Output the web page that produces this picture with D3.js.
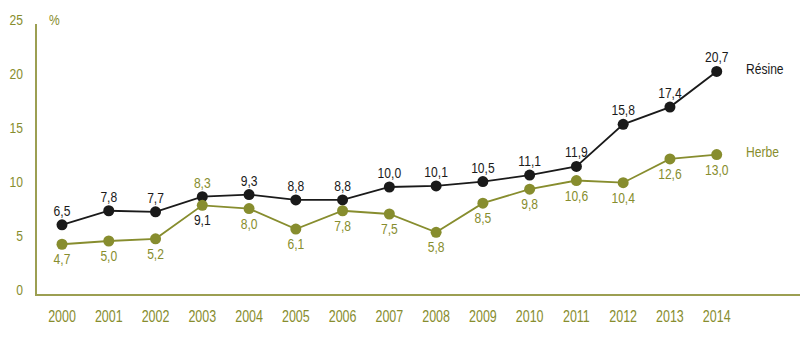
<!doctype html>
<html lang="fr">
<head>
  <meta charset="utf-8">
  <title>Résine et herbe</title>
  <script src="https://d3js.org/d3.v7.min.js"></script>
  <style>
    html, body { margin: 0; padding: 0; background: #fff; }
    svg { display: block; font-family: "Liberation Sans", Arial, sans-serif; }
  </style>
</head>
<body>
  <div id="chart"></div>
  <script>
    // data
    const years = [2000, 2001, 2002, 2003, 2004, 2005, 2006, 2007, 2008, 2009, 2010, 2011, 2012, 2013, 2014];
    const resine = [6.5, 7.8, 7.7, 9.1, 9.3, 8.8, 8.8, 10.0, 10.1, 10.5, 11.1, 11.9, 15.8, 17.4, 20.7];
    const herbe = [4.7, 5.0, 5.2, 8.3, 8.0, 6.1, 7.8, 7.5, 5.8, 8.5, 9.8, 10.6, 10.4, 12.6, 13.0];
    const yTicks = [0, 5, 10, 15, 20, 25];
    // years where the labels swap sides
    const swapLabelYears = [2003];

    const W = 800, H = 341;
    const olive = "#878d2e";
    const axisCol = "#9c9f52";
    const dark = "#1a1a1a";
    const squeeze = 0.78; // condensed look
    const fmt = v => d3.format(".1f")(v).replace(".", ",");

    const svg = d3.select("#chart").append("svg")
      .attr("width", W).attr("height", H);

    const x = d3.scalePoint().domain(years).range([62, 716.7]);
    const y = d3.scaleLinear().domain([0, 25]).range([295, 25]);

    // narrow text: place at (px,py) and squeeze horizontally
    function put(sel, px, py) {
      sel.attr("transform", (d, i) => `translate(${px(d, i)},${py(d, i)}) scale(${squeeze},1)`);
    }

    // axes
    svg.append("line").attr("x1", 36).attr("x2", 36).attr("y1", 24).attr("y2", 295)
      .attr("stroke", axisCol).attr("stroke-width", 2);
    svg.append("line").attr("x1", 35).attr("x2", W).attr("y1", 295).attr("y2", 295)
      .attr("stroke", axisCol).attr("stroke-width", 2);

    svg.append("g").selectAll("text").data(yTicks).join("text")
      .call(put, () => 23, d => y(d))
      .attr("text-anchor", "end")
      .attr("font-size", 15.5).attr("fill", olive)
      .text(d => d);

    svg.append("text").datum("%")
      .call(put, () => 49, () => 25)
      .attr("font-size", 15.5).attr("fill", olive).text("%");

    svg.append("g").selectAll("text").data(years).join("text")
      .call(put, d => x(d), () => 322)
      .attr("text-anchor", "middle")
      .attr("font-size", 16).attr("fill", olive)
      .text(d => d);

    const line = d3.line().x((d, i) => x(years[i])).y(d => y(d));

    function drawSeries(vals, col, above, name, labelY) {
      const g = svg.append("g");
      g.append("path").datum(vals).attr("d", line)
        .attr("fill", "none").attr("stroke", col).attr("stroke-width", 1.8);
      g.selectAll("circle").data(vals).join("circle")
        .attr("cx", (d, i) => x(years[i])).attr("cy", d => y(d))
        .attr("r", 5.5).attr("fill", col);
      g.selectAll("text.v").data(vals).join("text")
        .attr("class", "v")
        .call(put, (d, i) => x(years[i]), (d, i) => {
          const up = swapLabelYears.includes(years[i]) ? !above : above;
          const top = Math.min(y(resine[i]), y(herbe[i]));
          const bot = Math.max(y(resine[i]), y(herbe[i]));
          return up ? top - 9 : bot + 20;
        })
        .attr("text-anchor", "middle")
        .attr("font-size", 15.5).attr("fill", col)
        .text(d => fmt(d));
      g.append("text").datum(name)
        .call(put, () => 746, () => labelY)
        .attr("font-size", 15.5).attr("fill", col).text(name);
    }

    drawSeries(resine, dark, true, "Résine", 74);
    drawSeries(herbe, olive, false, "Herbe", 157);
  </script>
</body>
</html>
